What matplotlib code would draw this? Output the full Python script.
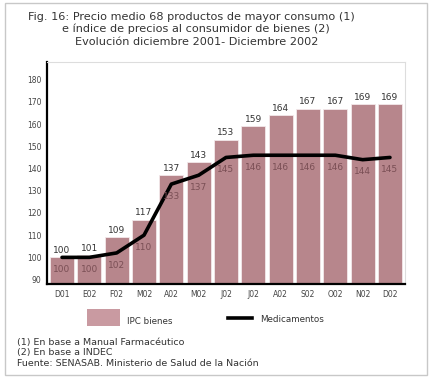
import matplotlib
matplotlib.use("Agg")
import matplotlib.pyplot as plt
from matplotlib.patches import Rectangle
import numpy as np

categories = ["D01", "E02", "F02", "M02", "A02", "M02", "J02", "J02", "A02", "S02", "O02", "N02", "D02"]
ipc_bienes = [100, 101, 109, 117, 137, 143, 153, 159, 164, 167, 167, 169, 169]
medicamentos = [100, 100, 102, 110, 133, 137, 145, 146, 146, 146, 146, 144, 145]
yticks = [90, 100, 110, 120, 130, 140, 150, 160, 170, 180]

title_lines = [
    "Fig. 16: Precio medio 68 productos de mayor consumo (1)",
    "e índice de precios al consumidor de bienes (2)",
    "Evolución diciembre 2001- Diciembre 2002",
]
footnotes = [
    "(1) En base a Manual Farmacéutico",
    "(2) En base a INDEC",
    "Fuente: SENASAB. Ministerio de Salud de la Nación",
]

W, H = 431, 378
fig = plt.figure(figsize=(W / 100, H / 100), dpi=100)
fig.patch.set_facecolor("white")

# outer frame
fig.add_artist(Rectangle((5 / W, 3 / H), 422 / W, 372 / H, transform=fig.transFigure,
                         fill=False, edgecolor="#c8c8c8", linewidth=1.0))

ax = fig.add_axes([47 / W, 1 - 284 / H, (405 - 47) / W, (284 - 62) / H])
x = np.arange(len(categories))
bar_color = "#b7868c"
ax.bar(x, ipc_bienes, width=0.87, color=bar_color, edgecolor="#f3e8ea", linewidth=0.6, zorder=2)
ax.plot(x, medicamentos, color="black", linewidth=2.6, solid_joinstyle="round", solid_capstyle="round", zorder=3)

for xi, v in zip(x, ipc_bienes):
    ax.text(xi, v + 1.0, str(v), ha="center", va="bottom", fontsize=6.5, color="#333333", zorder=4)
for xi, v in zip(x, medicamentos):
    ax.text(xi, v - 3.5, str(v), ha="center", va="top", fontsize=6.5, color="#7a4f55", zorder=4)

ax.set_xlim(-0.55, len(categories) - 0.45)
ax.set_ylim(88, 188)
ax.set_yticks(yticks)
ax.set_yticklabels([str(t) for t in yticks], fontsize=5.5, color="#444444")
ax.set_xticks(x)
ax.set_xticklabels(categories, fontsize=5.5, color="#444444")
ax.tick_params(axis="both", length=0, pad=4)
for s in ["top", "right"]:
    ax.spines[s].set_color("#dddddd")
    ax.spines[s].set_linewidth(0.8)
ax.spines["left"].set_color("black")
ax.spines["left"].set_linewidth(1.6)
ax.spines["bottom"].set_color("black")
ax.spines["bottom"].set_linewidth(1.6)

# title
fig.text(28 / W, 1 - 17 / H, title_lines[0], fontsize=8.1, color="#333333", va="center", ha="left")
fig.text(62 / W, 1 - 29 / H, title_lines[1], fontsize=8.1, color="#333333", va="center", ha="left")
fig.text(75 / W, 1 - 42 / H, title_lines[2], fontsize=8.1, color="#333333", va="center", ha="left")

# legend
fig.add_artist(Rectangle((87 / W, 1 - 326 / H), 33 / W, 17 / H, transform=fig.transFigure,
                         facecolor="#c99aa1", edgecolor="none"))
fig.text(127 / W, 1 - 322 / H, "IPC bienes", fontsize=6.3, color="#333333", va="center", ha="left")
fig.add_artist(plt.Line2D([228 / W, 252 / W], [1 - 318 / H, 1 - 318 / H], transform=fig.transFigure,
                          color="black", linewidth=2.6))
fig.text(260 / W, 1 - 319 / H, "Medicamentos", fontsize=6.3, color="#333333", va="center", ha="left")

for i, t in enumerate(footnotes):
    fig.text(17 / W, 1 - (342 + i * 11) / H, t, fontsize=6.8, color="#333333", va="center", ha="left")

fig.savefig("out.png", dpi=100)
